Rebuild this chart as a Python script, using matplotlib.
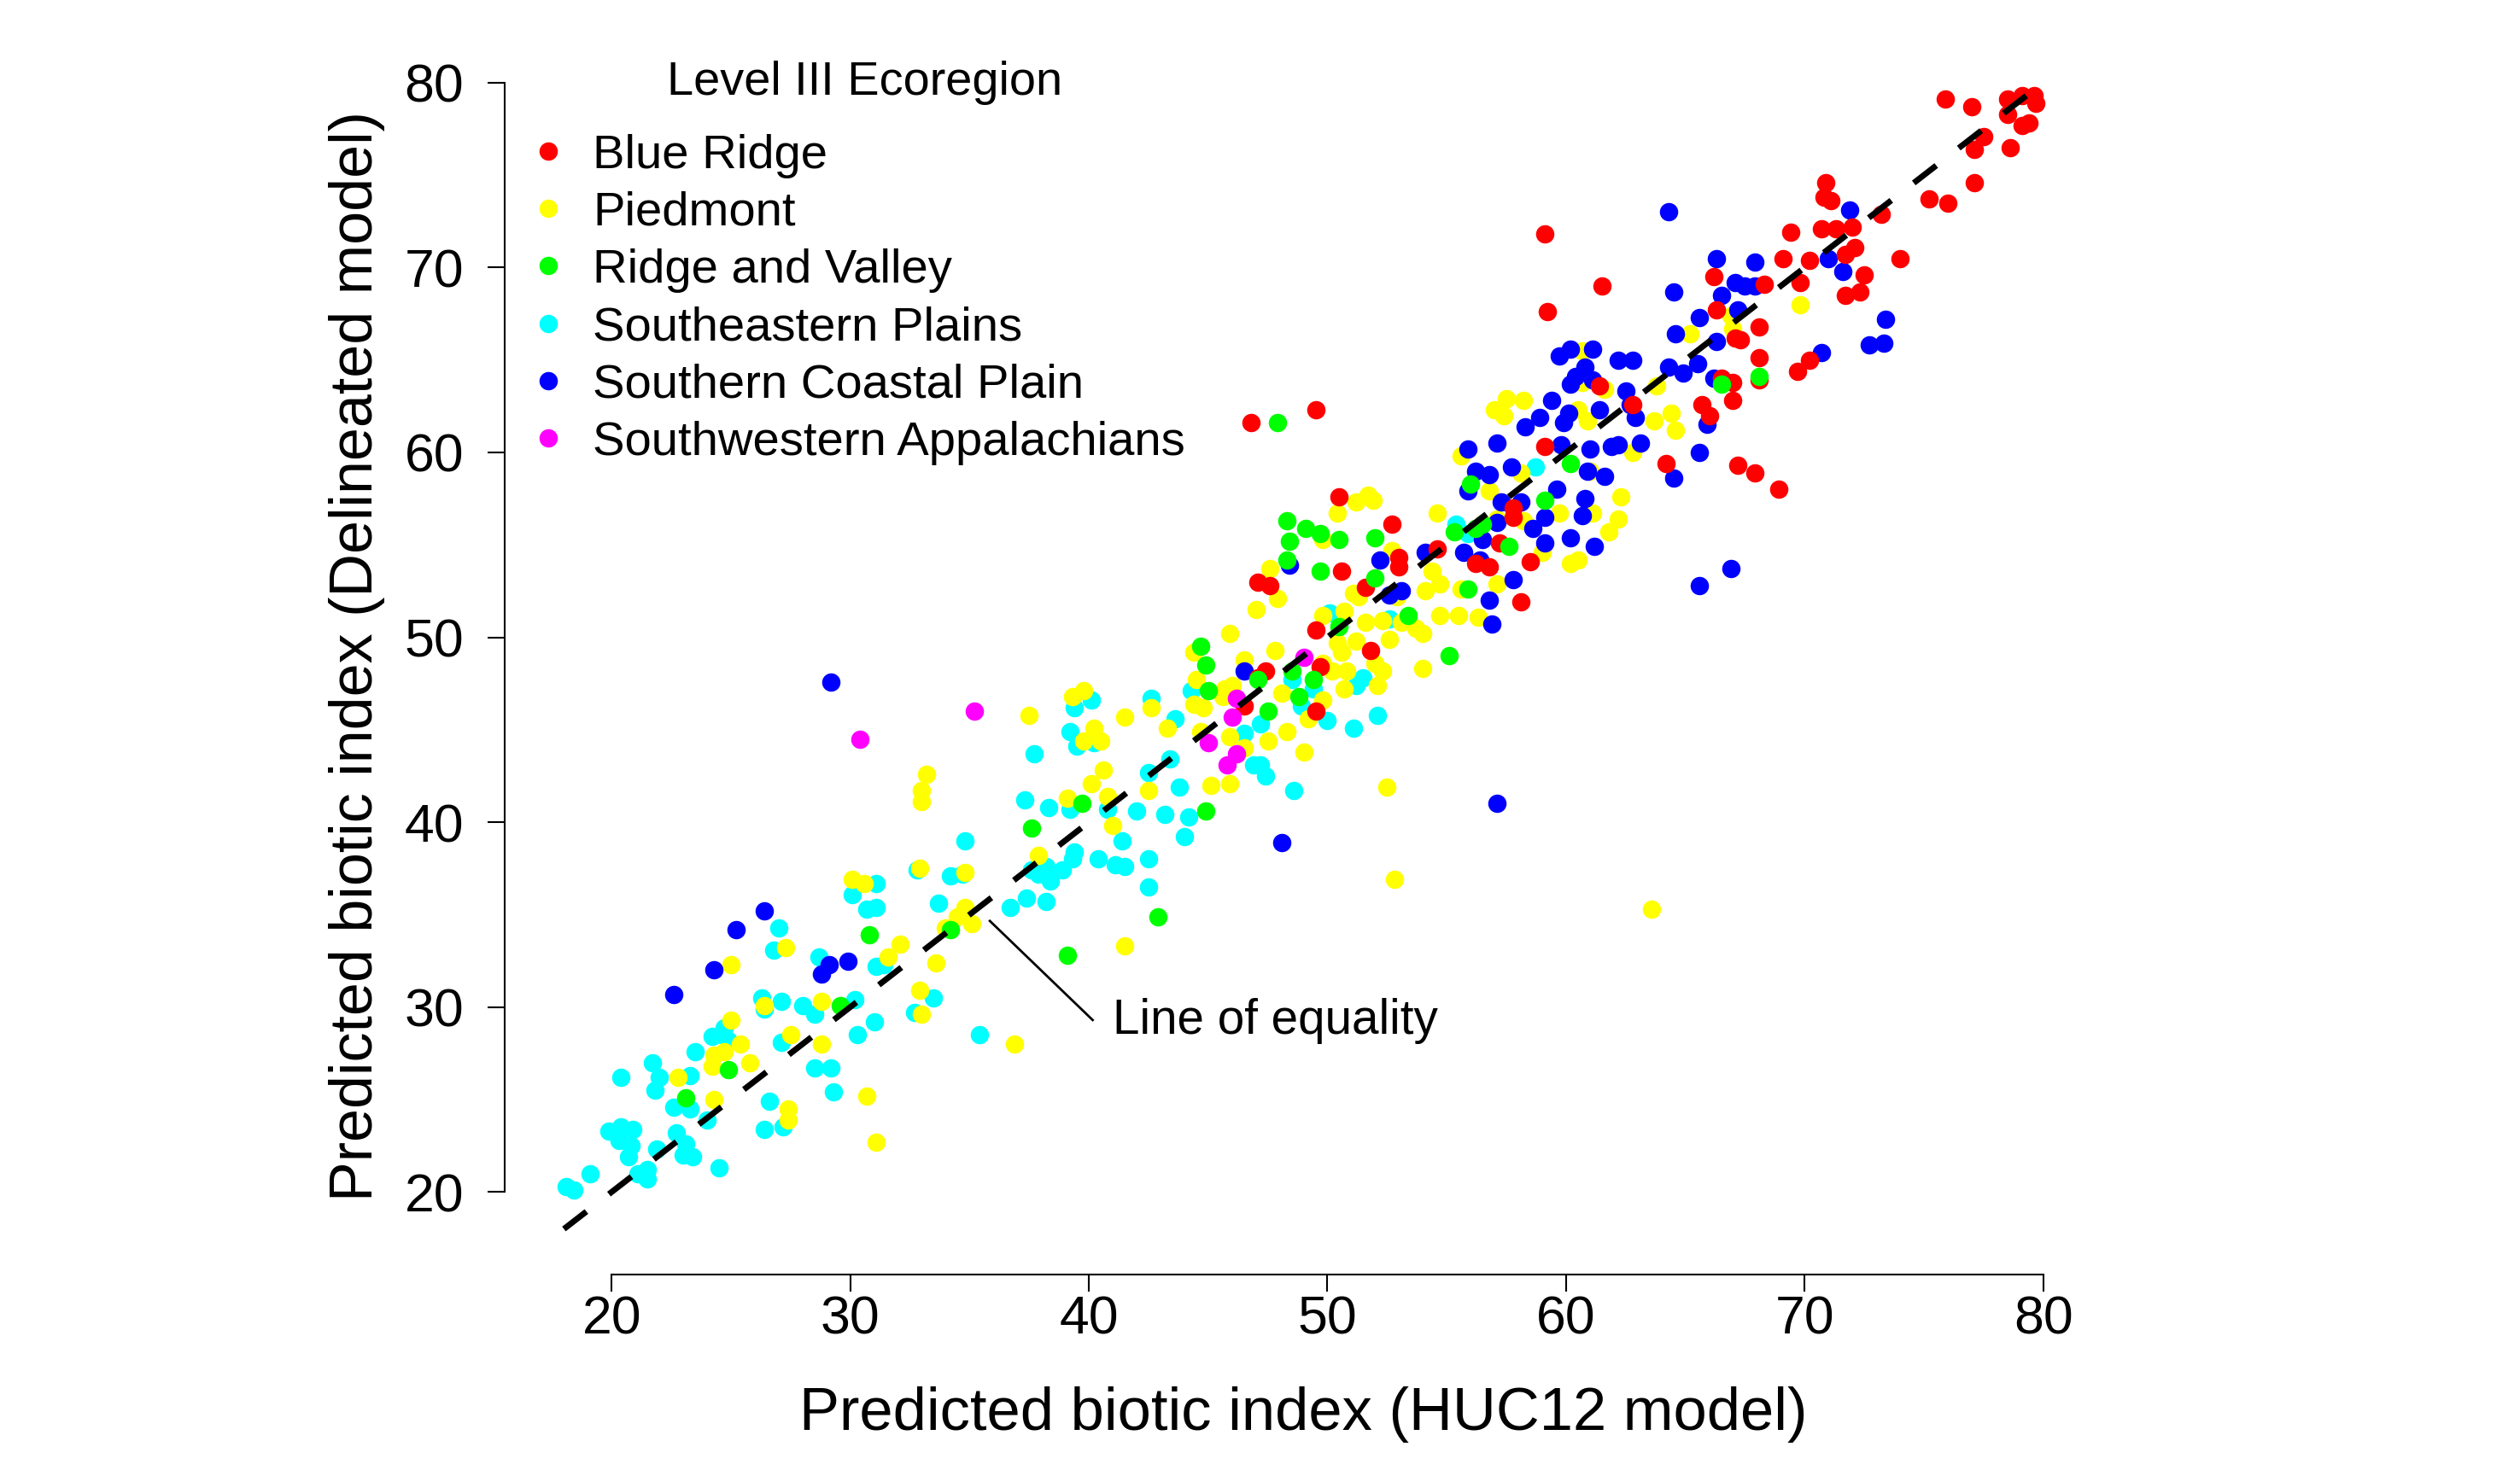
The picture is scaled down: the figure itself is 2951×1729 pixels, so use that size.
import matplotlib
matplotlib.use("Agg")
import matplotlib.pyplot as plt
import numpy as np

plt.rcParams['font.family'] = ['Liberation Sans', 'DejaVu Sans']

categories = ["Blue Ridge", "Piedmont", "Ridge and Valley", "Southeastern Plains",
              "Southern Coastal Plain", "Southwestern Appalachians"]
colors = ["#FF0000", "#FFFF00", "#00FF00", "#00FFFF", "#0000FF", "#FF00FF"]

blue_ridge = [
    (59.1, 71.8), (61.5, 69.0), (59.2, 67.6), (46.8, 61.6), (49.5, 62.3), (61.4, 63.6), (59.1, 60.3),
    (75.9, 79.1), (77.0, 78.7), (78.5, 79.1), (79.1, 79.3), (79.6, 79.3), (79.7, 78.9), (78.5, 78.3),
    (79.1, 77.7), (79.4, 77.8), (77.5, 77.1), (77.1, 76.4), (78.6, 76.5), (77.1, 74.6), (75.2, 73.7),
    (76.0, 73.5), (70.9, 74.6), (70.8, 73.8), (71.1, 73.6), (73.2, 72.9), (72.0, 72.2), (70.7, 72.1),
    (71.3, 72.1), (69.4, 71.9), (72.1, 71.1), (71.7, 70.7), (70.2, 70.4), (69.1, 70.5), (74.0, 70.5),
    (66.2, 69.5), (68.3, 69.1), (69.8, 69.2), (72.5, 69.6), (71.7, 68.5), (72.3, 68.7), (66.3, 67.7),
    (67.1, 66.2), (67.3, 66.1), (68.1, 66.8), (70.2, 65.0), (69.7, 64.4), (68.1, 65.1), (68.1, 63.9),
    (66.5, 64.0), (67.0, 63.8), (67.0, 62.8), (65.7, 62.6), (66.0, 62.0), (62.8, 62.6),
    (64.2, 59.4), (67.2, 59.3), (67.9, 58.9), (68.9, 58.0),
    (57.8, 57.0), (57.8, 56.5), (58.5, 54.1), (57.2, 55.1), (56.8, 53.8), (56.2, 54.0), (58.1, 51.9),
    (54.6, 54.8), (53.0, 54.3), (53.0, 53.8), (52.7, 56.1), (51.6, 52.7), (49.5, 50.4), (51.8, 49.3),
    (49.7, 48.4), (47.4, 48.2), (49.5, 46.0), (47.6, 52.8), (47.1, 53.0), (50.6, 53.6), (50.5, 57.6),
    (47.1, 47.8), (46.5, 46.3),
]

piedmont = [
    (60.7, 65.5), (60.7, 63.8), (61.6, 63.4), (57.0, 62.3), (57.5, 62.9), (57.4, 62.0), (58.2, 62.8),
    (60.5, 62.3), (60.9, 61.7), (63.8, 63.6), (63.7, 61.7), (64.4, 62.1), (64.6, 61.2), (62.8, 60.0),
    (69.8, 68.0), (66.9, 67.4), (67.0, 66.7), (65.2, 66.4), (62.3, 57.6), (62.2, 56.4),
    (55.6, 59.8), (58.1, 58.9), (61.0, 59.0), (56.8, 57.9), (59.7, 56.7), (61.1, 56.7), (61.8, 55.7),
    (58.2, 56.3), (57.1, 56.4), (59.0, 54.6), (60.2, 54.0), (60.5, 54.2), (54.6, 56.7), (57.1, 52.9),
    (56.3, 51.1), (55.6, 52.6), (54.7, 51.2), (55.5, 51.2), (54.4, 53.6), (54.7, 52.9), (54.1, 52.5),
    (54.0, 50.2), (53.7, 50.5), (53.1, 50.8), (52.6, 49.9), (52.3, 50.9), (52.7, 54.7), (52.9, 52.2),
    (51.3, 52.2), (51.6, 50.8), (49.8, 51.2), (50.7, 51.4), (50.4, 49.7), (51.2, 49.8), (50.6, 49.2),
    (47.8, 49.3), (49.8, 48.6), (50.2, 48.2), (50.8, 48.2), (50.7, 47.2), (52.3, 48.2), (52.1, 47.4),
    (52.0, 48.6), (48.1, 47.0), (49.8, 46.6), (49.2, 45.6), (47.5, 44.4), (48.3, 44.9), (49.0, 43.8),
    (52.5, 41.9), (54.0, 48.3), (47.0, 51.5), (47.9, 52.1), (47.6, 53.7), (50.4, 56.7), (51.2, 57.3),
    (51.7, 57.7), (51.9, 57.4), (49.8, 55.3), (51.1, 52.4),
    (45.9, 50.2), (44.4, 49.2), (44.5, 47.7), (44.4, 46.4), (44.8, 46.2), (45.7, 47.2), (46.0, 47.4),
    (45.6, 46.8), (42.6, 46.2), (43.3, 45.1), (41.5, 45.7), (44.7, 44.9), (45.9, 44.6), (46.5, 44.0),
    (45.9, 42.1), (45.1, 42.0), (42.5, 41.7), (39.8, 47.1), (39.3, 46.8), (37.5, 45.8), (40.2, 45.1),
    (40.5, 44.4), (39.8, 44.4), (40.6, 42.8), (40.1, 42.1), (33.2, 42.6), (33.0, 41.7), (33.0, 41.1),
    (39.1, 41.3), (40.8, 41.4), (46.5, 48.8),
    (34.8, 35.4), (34.5, 34.9), (35.1, 34.5), (34.0, 34.3), (32.1, 33.4), (33.6, 32.4), (32.9, 30.9),
    (33.0, 29.6), (36.9, 28.0), (37.9, 38.2), (41.5, 33.3), (41.0, 39.8), (32.9, 37.5), (34.8, 37.3),
    (52.8, 36.9), (63.6, 35.3),
    (30.1, 36.9), (30.6, 36.7), (31.6, 32.7), (27.3, 33.2), (25.0, 32.3), (28.8, 30.3), (26.4, 30.1),
    (25.0, 29.3), (27.5, 28.5), (28.8, 28.0), (30.7, 25.2), (31.1, 22.7), (27.4, 24.5), (27.4, 23.9),
    (25.8, 27.0), (25.4, 28.0), (24.3, 27.4), (24.7, 27.6), (24.2, 26.8), (22.8, 26.2), (24.3, 25.0),
]

ridge_valley = [
    (47.9, 61.6), (68.1, 64.1), (66.5, 63.7),
    (60.2, 59.4), (56.0, 58.3), (59.1, 57.4), (57.6, 54.9), (56.5, 56.1), (56.2, 55.9), (55.3, 55.7),
    (55.9, 52.6), (53.4, 51.2), (52.0, 55.4), (52.0, 53.2), (50.5, 50.6), (48.5, 48.2), (49.4, 47.7),
    (47.1, 47.7), (48.8, 46.8), (47.5, 46.0), (55.1, 49.0), (48.3, 56.3), (49.1, 55.9), (49.7, 55.6),
    (50.5, 55.3), (48.4, 55.2), (48.3, 54.2), (49.7, 53.6),
    (44.7, 49.5), (44.9, 48.5), (45.0, 47.1), (39.7, 41.0), (44.9, 40.6),
    (37.6, 39.7), (34.2, 34.2), (42.9, 34.9), (39.1, 32.8),
    (30.8, 33.9), (29.6, 30.1), (24.9, 26.6), (23.1, 25.1),
]

southeastern_plains = [
    (58.7, 59.2), (55.4, 56.1), (55.9, 55.6), (52.6, 51.0), (50.1, 51.3), (51.5, 47.8), (51.2, 47.4),
    (48.5, 47.7), (49.4, 47.2), (48.9, 46.3), (50.0, 45.5), (51.1, 45.1), (52.1, 45.8), (47.2, 45.3),
    (47.2, 43.1), (47.4, 42.5), (48.6, 41.7),
    (44.3, 47.1), (42.6, 46.7), (43.6, 45.6), (46.5, 44.8), (43.8, 41.9), (43.4, 43.4), (42.5, 42.7),
    (40.1, 46.6), (39.4, 46.2), (39.2, 44.9), (40.2, 44.3), (39.5, 44.1), (37.7, 43.7), (37.3, 41.2),
    (38.3, 40.8), (39.2, 40.7), (40.8, 40.7), (42.0, 40.6), (43.2, 40.4), (44.2, 40.3), (46.9, 43.1),
    (34.8, 39.0), (32.8, 37.4), (34.2, 37.1), (34.7, 37.2), (33.7, 35.6), (33.5, 30.5), (32.7, 29.7),
    (35.4, 28.5), (36.7, 35.4), (37.4, 35.9), (38.2, 35.7), (37.9, 37.2), (38.4, 36.8), (38.9, 37.4),
    (39.3, 38.0), (39.4, 38.4), (37.6, 37.4), (38.2, 37.6), (40.4, 38.0), (41.1, 37.7), (41.5, 37.6),
    (41.4, 39.0), (42.5, 38.0), (42.5, 36.5), (44.0, 39.2),
    (31.1, 36.7), (30.1, 36.1), (30.7, 35.3), (31.1, 35.4), (31.1, 32.2), (31.4, 32.3), (27.0, 34.3),
    (26.8, 33.1), (28.7, 32.7), (30.2, 30.4), (31.0, 29.2), (30.3, 28.5), (28.5, 29.6), (28.0, 30.1),
    (26.3, 30.5), (26.4, 29.9), (27.1, 30.3), (24.7, 28.9), (24.9, 28.2), (27.1, 28.1), (28.5, 26.7),
    (29.2, 26.7), (29.3, 25.4), (26.6, 24.9), (26.4, 23.4), (27.2, 23.5), (24.2, 28.4), (24.6, 28.5),
    (23.5, 27.6), (23.3, 26.3), (22.6, 24.6), (23.3, 24.5), (24.0, 23.9), (21.7, 27.0), (22.0, 26.2),
    (21.8, 25.5), (20.4, 26.2), (19.9, 23.3), (20.4, 23.5), (20.9, 23.4), (20.3, 22.8), (20.7, 21.9),
    (20.8, 22.5), (21.9, 22.3), (22.7, 23.2), (23.1, 22.6), (23.0, 22.0), (23.4, 21.9), (21.1, 21.0),
    (21.5, 20.7), (21.5, 21.2), (24.5, 21.3), (19.1, 21.0), (18.1, 20.3), (18.4, 20.1),
]

southern_coastal_plain = [
    (59.7, 65.2), (60.2, 65.6), (61.1, 65.6), (60.8, 64.6), (60.4, 64.1), (60.2, 63.7), (61.1, 63.9),
    (59.4, 62.8), (58.9, 61.9), (58.3, 61.4), (59.9, 61.6), (60.1, 62.1), (61.4, 62.3), (57.1, 60.5),
    (55.9, 60.2), (59.8, 60.4), (61.0, 60.2), (61.9, 60.3),
    (71.9, 73.1), (71.0, 70.5), (66.3, 70.5), (67.9, 70.3), (64.3, 73.0), (71.6, 69.8), (67.1, 69.2),
    (67.5, 69.0), (67.9, 69.0), (64.5, 68.7), (66.5, 68.5), (67.2, 67.7), (65.6, 67.3), (64.6, 66.4),
    (66.3, 66.0), (73.4, 67.2), (72.7, 65.8), (73.3, 65.9), (70.7, 65.4), (66.2, 64.0), (65.9, 61.5),
    (62.2, 65.0), (62.8, 65.0), (64.3, 64.6), (64.9, 64.3), (65.5, 64.8), (62.5, 63.3), (62.7, 62.6),
    (62.9, 61.9), (63.1, 60.5), (62.2, 60.4), (65.6, 60.0),
    (64.5, 58.6), (66.9, 53.7), (65.6, 52.8),
    (57.7, 59.2), (56.2, 59.0), (56.8, 58.8), (60.9, 59.0), (61.6, 58.7), (55.9, 57.9), (57.3, 57.3),
    (58.1, 57.3), (59.6, 58.0), (60.8, 57.5), (59.1, 56.5), (60.7, 56.6), (60.2, 55.4), (61.2, 54.9),
    (58.6, 55.9), (57.1, 56.2), (59.1, 55.1), (56.5, 55.3), (55.7, 54.6), (56.4, 54.2), (57.8, 53.1),
    (56.8, 52.0), (56.9, 50.7), (54.1, 54.6), (52.2, 54.2), (52.6, 52.3), (53.1, 52.5), (48.4, 53.9),
    (57.1, 41.0), (46.5, 48.2), (48.1, 38.9),
    (29.2, 47.6), (26.4, 35.2), (25.2, 34.2), (24.3, 32.0), (22.6, 30.7), (29.9, 32.5), (29.1, 32.3),
    (28.8, 31.8),
]

southwestern_appalachians = [
    (30.4, 44.5), (35.2, 46.0), (49.0, 48.9), (46.2, 46.7), (46.0, 45.7), (45.0, 44.3), (46.2, 43.7),
    (45.8, 43.1),
]

series = [blue_ridge, piedmont, ridge_valley, southeastern_plains,
          southern_coastal_plain, southwestern_appalachians]
draw_order = [3, 1, 4, 0, 2, 5]

equality_line = [18, 80]
axis_ticks = [20, 30, 40, 50, 60, 70, 80]

fig = plt.figure(figsize=(29.51, 17.29), dpi=100)
ax = fig.add_axes([0.2003, 0.1363, 0.6340, 0.8388])

for i in draw_order:
    pts = np.array(series[i])
    ax.scatter(pts[:, 0], pts[:, 1], s=240, color=colors[i], linewidths=0, zorder=2)

ax.plot(equality_line, equality_line, color='black', lw=5, dashes=(4.8, 4.8),
        dash_capstyle='butt', zorder=3)

# annotation
ax.plot([35.85, 40.16], [34.66, 29.3], color='black', lw=2, zorder=3)
ax.text(41.0, 28.56, "Line of equality", fontsize=40.8, ha='left', va='baseline')

ax.set_xlim(15.52, 82.48)
ax.set_ylim(15.52, 82.48)
for side in ['top', 'right']:
    ax.spines[side].set_visible(False)
ax.spines['left'].set_bounds(20, 80)
ax.spines['bottom'].set_bounds(20, 80)
ax.spines['left'].set_linewidth(1.5)
ax.spines['bottom'].set_linewidth(1.5)
ax.set_xticks(axis_ticks)
ax.set_yticks(axis_ticks)
ax.tick_params(axis='both', direction='out', length=14.4, width=1.5, labelsize=45)
ax.tick_params(axis='x', pad=2)
ax.tick_params(axis='y', pad=20)

fig.text(0.5171, 0.0312, "Predicted biotic index (HUC12 model)", fontsize=50.8,
         ha='center', va='baseline')
fig.text(0.1416, 0.5558, "Predicted biotic index (Delineated model)", fontsize=50.4,
         ha='center', va='center', rotation=90)

# legend
fig.text(1013 / 2951, 1 - 110.7 / 1729, "Level III Ecoregion", fontsize=40.2,
         ha='center', va='baseline')
for i, name in enumerate(categories):
    yc = 176.7 + 67.3 * i
    fig.text(694 / 2951, 1 - (yc + 20) / 1729, name, fontsize=40.5, ha='left', va='baseline')
    ax.scatter([642 / 2951], [1 - yc / 1729], s=240, color=colors[i], linewidths=0,
               transform=fig.transFigure, clip_on=False)

fig.savefig("out.png", dpi=100)
